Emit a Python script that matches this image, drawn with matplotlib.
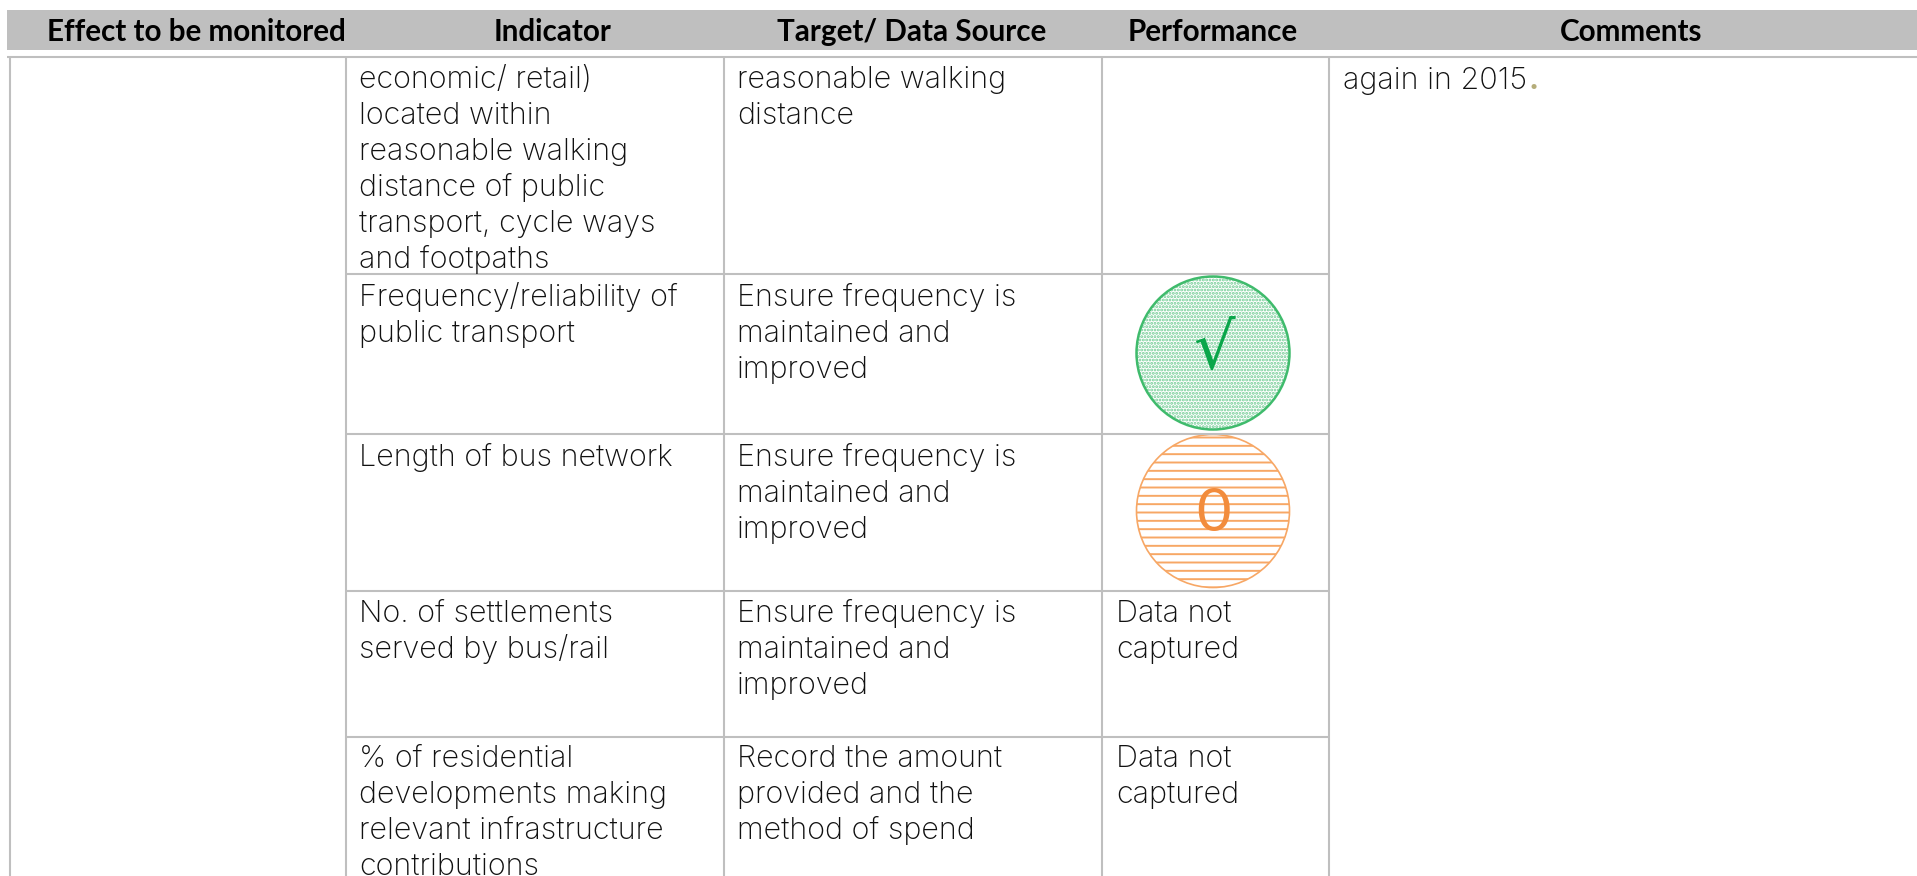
import matplotlib
matplotlib.use('Agg')
import matplotlib.pyplot as plt
from matplotlib.patches import Circle, Rectangle

W, H = 1917, 876
GREY = '#bfbfbf'
BODY = 'Inter'
HEAD = 'Lato'
INK = '#111111'
SIZE = 22

# table content
headers = ['Effect to be monitored', 'Indicator', 'Target/ Data Source', 'Performance', 'Comments']
header_x = [196, 553, 912, 1213, 1631]

indicator = [
    ['economic/ retail)', 'located within', 'reasonable walking', 'distance of public',
     'transport, cycle ways', 'and footpaths'],
    ['Frequency/reliability of', 'public transport'],
    ['Length of bus network'],
    ['No. of settlements', 'served by bus/rail'],
    ['% of residential', 'developments making', 'relevant infrastructure', 'contributions'],
]
target = [
    ['reasonable walking', 'distance'],
    ['Ensure frequency is', 'maintained and', 'improved'],
    ['Ensure frequency is', 'maintained and', 'improved'],
    ['Ensure frequency is', 'maintained and', 'improved'],
    ['Record the amount', 'provided and the', 'method of spend'],
]
performance = [[], [], [], ['Data not', 'captured'], ['Data not', 'captured']]
comment = 'again in 2015'

# table geometry, in pixels of the picture
col_lines = [10, 346, 724, 1102, 1329]
row_lines = [274, 434, 591, 737]
baselines = [88, 306, 466, 622, 767]
line_step = 36
col_text = [359, 737, 1116]

fig = plt.figure(figsize=(W / 100, H / 100), dpi=100)
ax = fig.add_axes([0, 0, 1, 1])
ax.set_xlim(0, W)
ax.set_ylim(H, 0)
ax.axis('off')

# header band
ax.add_patch(Rectangle((7, 10), W - 7, 40, fc=GREY, ec='none'))
for x, s in zip(header_x, headers):
    ax.text(x, 32, s, ha='center', va='center', family=HEAD, weight='bold', fontsize=21.3, color='black')

# grid
ax.plot([7, W], [57, 57], color=GREY, lw=1.5, solid_capstyle='butt')
for x in col_lines:
    ax.plot([x, x], [57, H], color=GREY, lw=1.5, solid_capstyle='butt')
for y in row_lines:
    ax.plot([col_lines[1], col_lines[4]], [y, y], color=GREY, lw=1.5, solid_capstyle='butt')

# body text
for column, x in zip([indicator, target, performance], col_text):
    for cell, base in zip(column, baselines):
        for i, s in enumerate(cell):
            ax.text(x, base + i * line_step, s, va='baseline', family=BODY, weight='light',
                    fontsize=SIZE, color=INK)

t = ax.text(1343, 89, comment, va='baseline', family=BODY, weight='light', fontsize=SIZE, color=INK)
fig.canvas.draw()
box = t.get_window_extent()
ax.text(box.x1 + 1, 89, '.', va='baseline', family=BODY, weight='bold', fontsize=SIZE, color='#b5ad7a')

# performance symbols
plt.rcParams['hatch.linewidth'] = 1.4
ax.add_patch(Circle((1213, 353), 76.5, fc='white', ec='#6fcb93', hatch='.....', lw=0))
ax.add_patch(Circle((1213, 353), 76.5, fc='none', ec='#3fbb6c', lw=1.8))
ax.text(1214, 351, '√', ha='center', va='center', family='DejaVu Sans', fontsize=47, color='#0aa64a')

ax.add_patch(Circle((1213, 511), 76.5, fc='white', ec='#f7a765', hatch='--', lw=0))
ax.add_patch(Circle((1213, 511), 76.5, fc='none', ec='#f7a765', lw=1.2))
ax.text(1213, 514, '0', ha='center', va='center', family='Lato', fontsize=43, color='#f28c3c')

fig.savefig('out.png', dpi=100)
